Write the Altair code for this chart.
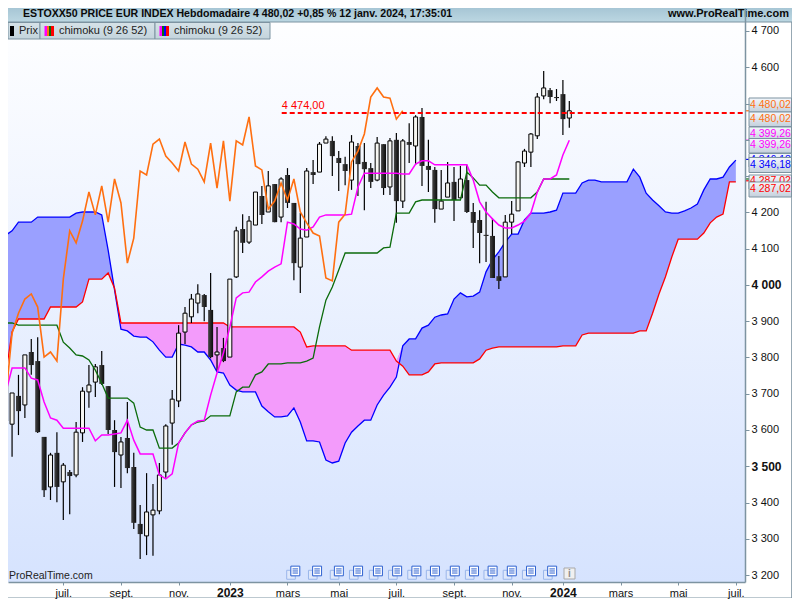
import altair as alt
import pandas as pd

opens = [3771,3616,3694,3669,3815,3790,3581,3443,3537,3457,
3484,3476,3592,3705,3732,3779,3721,3600,3531,3578,
3498,3341,3308,3366,3377,3484,3619,3680,3870,3912,
3950,3972,3931,3807,3826,3801,4022,4154,4118,4165,
4245,4201,4278,4187,4303,4226,4049,4132,4311,4311,
4391,4397,4350,4333,4289,4383,4339,4322,4289,4388,
4270,4400,4231,4394,4383,4463,4328,4317,4209,4242,
4284,4240,4289,4201,4179,4138,4135,4024,4022,4173,
4204,4336,4366,4411,4521,4537,4518,4526,4460]
closes = [3625,3702,3652,3807,3779,3594,3434,3531,3443,3503,
3473,3594,3707,3724,3774,3727,3600,3539,3567,3495,
3344,3313,3374,3379,3476,3611,3685,3867,3922,3961,
3975,3939,3801,3815,3790,4016,4149,4116,4176,4256,
4193,4273,4173,4292,4226,4060,4129,4314,4303,4388,
4402,4355,4336,4314,4394,4333,4319,4284,4391,4267,
4397,4231,4397,4386,4463,4328,4317,4209,4231,4281,
4234,4292,4201,4171,4143,4135,4019,4011,4173,4195,
4339,4369,4416,4518,4543,4518,4515,4457,4480]
highs = [3812,3702,3752,3807,3851,3856,3581,3537,3594,3509,
3490,3622,3718,3779,3782,3818,3721,3627,3581,3677,
3537,3393,3481,3451,3509,3616,3710,3889,3939,3975,
4002,3975,4033,3884,3854,4016,4160,4195,4190,4256,
4273,4314,4278,4297,4322,4226,4198,4322,4344,4394,
4410,4410,4369,4353,4413,4391,4391,4336,4408,4388,
4405,4419,4402,4446,4468,4488,4400,4325,4317,4339,
4325,4328,4331,4226,4206,4229,4184,4080,4193,4231,
4341,4375,4419,4529,4590,4543,4540,4565,4507]
lows = [3597,3526,3586,3633,3752,3592,3415,3407,3401,3352,
3368,3470,3567,3661,3691,3724,3589,3443,3440,3481,
3327,3244,3255,3253,3368,3468,3559,3663,3837,3895,
3922,3900,3798,3765,3787,3801,4019,4088,4113,4165,
4168,4201,4173,4173,4212,4013,3978,4132,4278,4311,
4391,4300,4259,4275,4262,4245,4206,4267,4286,4248,
4248,4171,4212,4336,4331,4273,4256,4171,4209,4242,
4176,4240,4198,4102,4060,4063,4019,3989,4022,4140,
4204,4325,4325,4402,4512,4501,4507,4413,4433]
tenkan = [3702,3771,3771,3771,3743,3738,3677,3633,3627,3605,
3605,3605,3605,3605,3570,3586,3586,3589,3592,3627,
3572,3534,3534,3534,3476,3465,3479,3564,3592,3614,
3625,3627,3696,3757,3812,3884,3964,3978,3980,4008,
4022,4038,4049,4058,4173,4168,4154,4151,4160,4187,
4193,4193,4193,4193,4195,4270,4308,4308,4308,4308,
4308,4308,4306,4306,4333,4342,4342,4331,4331,4331,
4331,4331,4331,4289,4229,4201,4182,4165,4157,4157,
4165,4176,4198,4256,4292,4292,4303,4358,4399]
kijun = [3895,3895,3889,3889,3889,3889,3889,3889,3889,3842,
3826,3807,3804,3793,3765,3729,3688,3688,3688,3688,
3674,3608,3600,3600,3550,3550,3550,3564,3592,3614,
3622,3625,3639,3639,3639,3639,3705,3718,3718,3752,
3760,3782,3782,3782,3785,3785,3785,3790,3798,3884,
3958,3994,4041,4088,4088,4088,4088,4088,4088,4102,
4104,4198,4198,4198,4229,4234,4234,4234,4234,4234,
4234,4234,4311,4295,4275,4275,4256,4240,4240,4240,
4240,4240,4240,4256,4292,4292,4292,4292,4292]
chikou = [3685,3867,3922,3961,3975,3939,3801,3815,3790,4016,4149,4116,4176,4256,4193,4273,
4173,4292,4226,4060,4129,4314,4303,4388,4402,4355,4336,4314,4394,4333,4319,4284,4391,4267,
4397,4231,4397,4386,4463,4328,4317,4209,4231,4281,4234,4292,4201,4171,4143,4135,4019,4011,
4173,4195,4339,4369,4416,4518,4543,4518,4515,4457,4480]
senkou_a = [4137,4149,4173,4173,4173,4187,4187,4187,4187,4187,
4187,4198,4201,4201,4201,4193,4096,3986,3878,3873,
3859,3856,3856,3843,3820,3801,3801,3837,3834,3829,
3815,3815,3793,3760,3757,3724,3710,3705,3705,3705,
3666,3650,3636,3636,3639,3661,3622,3570,3570,3567,
3517,3509,3514,3564,3594,3611,3627,3627,3669,3696,
3718,3746,3832,3851,3851,3881,3889,3911,3917,3920,
3961,3978,3967,3969,3980,4036,4069,4091,4118,4140,
4140,4179,4198,4198,4198,4201,4206,4253,4253,4253,
4281,4289,4289,4284,4284,4284,4284,4284,4319,4297,
4253,4234,4218,4201,4198,4198,4204,4212,4223,4262,
4292,4292,4297,4325,4344]
senkou_b = [3752,3870,3906,3906,3906,3906,3906,3939,3939,3939,
3939,3939,3953,4016,4016,4016,4033,3991,3895,3895,
3895,3895,3895,3895,3895,3895,3895,3895,3895,3895,
3895,3895,3895,3895,3895,3884,3884,3884,3884,3884,
3884,3884,3884,3884,3884,3884,3870,3829,3832,3832,
3832,3832,3832,3832,3820,3820,3820,3820,3820,3820,
3820,3790,3776,3752,3752,3752,3760,3782,3785,3785,
3785,3785,3785,3785,3796,3820,3826,3829,3829,3829,
3829,3829,3829,3829,3829,3829,3829,3832,3832,3832,
3862,3867,3867,3867,3867,3867,3867,3867,3867,3873,
3873,3922,3975,4022,4077,4126,4126,4126,4126,4143,
4171,4187,4195,4284,4284]

x_ticks = [9, 18, 27, 35, 44, 52, 61, 70, 79, 87, 96, 105, 114]
x_names = ["juil.", "sept.", "nov.", "2023", "mars", "mai", "juil.", "sept.", "nov.", "2024", "mars", "mai", "juil."]
y_ticks = [3200, 3300, 3400, 3500, 3600, 3700, 3800, 3900, 4000, 4100, 4200, 4300, 4400, 4500, 4600, 4700]
events = [44.9, 48.3, 51.7, 54.7, 57.8, 60.8, 63.8, 66.7, 69.8, 72.8, 75.7, 78.7, 81.7, 85.0]

FONT = "Liberation Sans"
EDGE = "#7d93a1"
W, H = 737, 574
xs = alt.Scale(domain=[0.365, 115.43], nice=False, zero=False, padding=0)
ys = alt.Scale(domain=[3180.9, 4763.4], nice=False, zero=False, padding=0)
one = alt.Data(values=[{"a": 1}])

name_map = "{" + ",".join(f"'{k}':'{v}'" for k, v in zip(x_ticks, x_names)) + "}"
x_axis = alt.Axis(
    values=x_ticks, labelExpr=f"{name_map}[datum.value]", title=None, grid=False, zindex=1,
    domainColor=EDGE, domainWidth=1.5, tickColor=EDGE, tickSize=3, labelColor="#111111",
    labelFont=FONT, labelFontSize={"condition": {"test": "datum.value==35||datum.value==87", "value": 12}, "value": 11},
    labelFontWeight={"condition": {"test": "datum.value==35||datum.value==87", "value": "bold"}, "value": "normal"},
    labelOverlap=False, labelFlush=False, labelPadding=2,
)
y_axis = alt.Axis(
    orient="right", values=y_ticks, title=None, grid=False, zindex=1,
    labelExpr="indexof([4300,4400,4500],datum.value)>=0?'':slice(''+datum.value,0,1)+' '+slice(''+datum.value,1)",
    domainColor=EDGE, domainWidth=1.5, tickColor=EDGE, tickSize=4, labelColor="#111111", labelFont=FONT,
    labelFontSize={"condition": {"test": "datum.value==4000||datum.value==3500", "value": 12}, "value": 11},
    labelFontWeight={"condition": {"test": "datum.value==4000||datum.value==3500", "value": "bold"}, "value": "normal"},
    labelOverlap=False, labelPadding=2,
)
X = lambda f: alt.X(f, scale=xs, axis=x_axis)
Y = lambda f: alt.Y(f, scale=ys, axis=y_axis)


def grad(c0, c1, horizontal=False):
    return alt.LinearGradient(
        gradient="linear",
        stops=[alt.GradientStop(color=c0, offset=0), alt.GradientStop(color=c1, offset=1)],
        x1=0, y1=0, x2=1 if horizontal else 0, y2=0 if horizontal else 1,
    )


def box(px0, px1, py0, py1, fill, stroke=None):
    kw = {"stroke": stroke, "strokeWidth": 1} if stroke else {}
    return alt.Chart(one).mark_rect(fill=fill, **kw).encode(
        x=alt.value(px0 - 8), x2=alt.value(px1 - 8), y=alt.value(py0 - 8), y2=alt.value(py1 - 8))


def label(px, py, s, color="#111111", size=11, weight="normal", align="left"):
    return alt.Chart(one).mark_text(
        text=s, color=color, fontSize=size, fontWeight=weight, align=align, baseline="middle", font=FONT
    ).encode(x=alt.value(px - 8), y=alt.value(py - 8))


def series(values, color, width):
    df = pd.DataFrame({"i": range(len(values)), "v": values})
    return alt.Chart(df).mark_line(color=color, strokeWidth=width).encode(x=X("i:Q"), y=Y("v:Q"))


cd = pd.DataFrame({"i": range(len(opens)), "o": opens, "c": closes, "h": highs, "l": lows})
cloud = pd.DataFrame({"i": range(len(senkou_a)), "a": senkou_a, "b": senkou_b})
cloud["top"] = cloud[["a", "b"]].max(axis=1)

layers = [box(8, 745, 8, 582, grad("#ffffff", "#d6e3fe"))]

# cloud
layers.append(alt.Chart(cloud).mark_area(color="#9aa0ff", opacity=1).encode(x=X("i:Q"), y=Y("top:Q"), y2="b:Q"))
layers.append(alt.Chart(cloud).mark_area(color="#f39bfb", opacity=1).encode(x=X("i:Q"), y=Y("top:Q"), y2="a:Q"))
layers.append(series(senkou_a, "#0000ff", 1.3))
layers.append(series(senkou_b, "#ff0000", 1.3))

# candles
layers.append(alt.Chart(cd).mark_rule(color="#000000", strokeWidth=1.2).encode(x=X("i:Q"), y=Y("l:Q"), y2="h:Q"))
layers.append(alt.Chart(cd[cd.c >= cd.o]).mark_bar(
    orient="vertical", size=4, fill="#f6f6f2", stroke="#000000", strokeWidth=1).encode(x=X("i:Q"), y=Y("o:Q"), y2="c:Q"))
layers.append(alt.Chart(cd[cd.c < cd.o]).mark_bar(
    orient="vertical", size=5, fill=grad("#454545", "#0a0a0a", True)).encode(x=X("i:Q"), y=Y("o:Q"), y2="c:Q"))

layers.append(series(kijun, "#0b6b0b", 1.3))
layers.append(series(tenkan, "#ff00ff", 1.5))
layers.append(series(chikou, "#ff6f10", 1.6))

# level line
level = pd.DataFrame({"x": [43.1], "x2": [115.4], "y": [4474], "t": ["4 474,00"]})
layers.append(alt.Chart(level).mark_rule(color="#ff0000", strokeWidth=2, strokeDash=[5, 3]).encode(
    x=X("x:Q"), x2="x2:Q", y=Y("y:Q")))
layers.append(alt.Chart(level).mark_text(
    color="#ff0000", fontSize=11, align="left", baseline="middle", dy=-7, font=FONT).encode(
    x=X("x:Q"), y=Y("y:Q"), text="t:N"))

# event icons
ev = pd.DataFrame({"e": events})
ev_enc = dict(x=X("e:Q"), y=alt.value(564.7))
layers.append(alt.Chart(ev).mark_point(
    shape="M-0.95,-0.35L-0.35,-0.35L-0.35,0.45L0.3,0.45L0.3,0.95L-0.95,0.95Z",
    size=190, filled=True, fill="#dfe8fb", stroke="#9ab6ea", strokeWidth=1, opacity=1).encode(**ev_enc))
layers.append(alt.Chart(ev).mark_point(
    shape="M-0.35,-0.95L0.95,-0.95L0.95,0.45L-0.35,0.45Z",
    size=190, filled=True, fill="#ffffff", stroke="#2f62d0", strokeWidth=1, opacity=1).encode(**ev_enc))
layers.append(alt.Chart(ev).mark_point(
    shape="M-0.1,-0.55L0.7,-0.55M-0.1,-0.25L0.7,-0.25M-0.1,0.05L0.7,0.05",
    size=190, filled=False, stroke="#2f62d0", strokeWidth=1, opacity=1).encode(**ev_enc))
layers.append(box(564, 575, 568, 579, "#f0f0f0", "#a8a8a8"))
layers.append(label(569.5, 573.7, "i", "#8a8a8a", 10, "bold", "center"))
layers.append(label(9, 576, "ProRealTime.com", "#222222", 10.5))

# title bar
layers.append(box(8, 792, 8, 22, grad("#a7c6d5", "#bcd7e2")))
layers.append(box(8, 792, 21.5, 22.5, EDGE))
layers.append(box(8, 40, 22.5, 39, grad("#d6e2e8", "#c3d4dc"), EDGE))
layers.append(box(40, 155, 22.5, 39, grad("#d6e2e8", "#c3d4dc"), EDGE))
layers.append(box(155, 270, 22.5, 39, grad("#d6e2e8", "#c3d4dc"), EDGE))
layers.append(label(23, 13.8, "ESTOXX50 PRICE EUR INDEX Hebdomadaire 4 480,02 +0,85 % 12 janv. 2024, 17:35:01", "#0a0a0a", 10.6, "bold"))
layers.append(label(789, 14, "www.ProRealTime.com", "#0a0a0a", 11, "bold", "right"))
layers.append(label(19, 30.5, "Prix", "#222222"))
layers.append(label(59, 30.5, "chimoku (9 26 52)", "#222222"))
layers.append(label(174, 30.5, "chimoku (9 26 52)", "#222222"))
for px0, px1, c in [(10, 14, "#000000"), (44.5, 47, "#ff00ff"), (47, 49, "#ff6f10"), (49, 51, "#0b6b0b"), (51, 54, "#ff0000"),
                    (159.5, 162, "#ff00ff"), (162, 164, "#0b6b0b"), (164, 166, "#0000ff"), (166, 169, "#ff0000")]:
    layers.append(box(px0, px1, 26, 36, c))

# stubs and value tags
stubs = pd.DataFrame({"v": [4480, 4399, 4346, 4292, 4287], "k": ["o", "m", "b", "g", "r"]})
layers.append(alt.Chart(stubs).mark_rule(strokeWidth=1.2).encode(
    x=alt.value(737), x2=alt.value(741), y=Y("v:Q"),
    color=alt.Color("k:N", legend=None, scale=alt.Scale(
        domain=["o", "m", "b", "g", "r"], range=["#ff6f10", "#ff00ff", "#0000ff", "#0b6b0b", "#ff0000"]))))
tags = [
    (98, 112, 105, "4 480,02", "#ff6f10"), (112, 126.5, 119, "4 480,02", "#ff6f10"),
    (127, 141, 133.7, "4 399,26", "#ff00ff"), (138.5, 153, 145, "4 399,26", "#ff00ff"),
    (153.5, 167, 160, "4 346,18", "#0000ff"), (157.5, 172.5, 164.5, "4 346,18", "#0000ff"),
    (175, 189, 181, "4 287,02", "#ff0000"), (182, 197, 189, "4 287,02", "#ff0000"),
]
for y0, y1, yc, s, c in tags:
    layers.append(box(749, 791.5, y0, y1, grad("#f4f7fb", "#c4d0dc"), EDGE))
    layers.append(label(750, yc, s, c, 10.5))

# frame
layers.append(box(791.2, 792, 22, 598, EDGE))
layers.append(box(8, 792, 597.5, 598, EDGE))

chart = alt.layer(*layers).properties(
    width=W, height=H,
    padding={"left": 0, "top": 0, "right": 47, "bottom": 17},
    autosize=alt.AutoSizeParams(type="none"),
    background="#ffffff",
).configure_view(stroke=None)

chart.save("out.html", embed_options={"renderer": "svg", "actions": False})
